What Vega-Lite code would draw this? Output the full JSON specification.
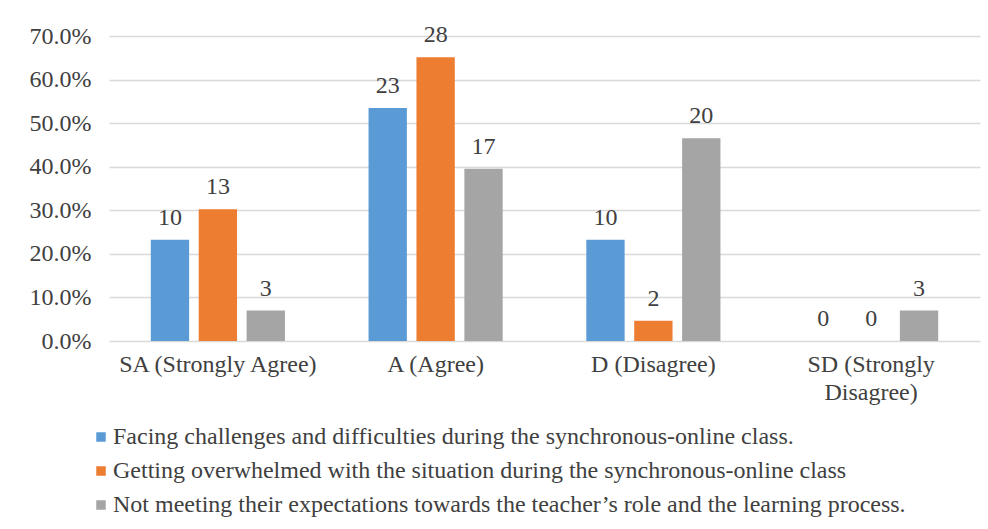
{
  "$schema": "https://vega.github.io/schema/vega-lite/v6.json",
  "width": 871,
  "height": 305,
  "autosize": {"type": "none"},
  "padding": {"left": 109, "top": 36, "right": 8, "bottom": 188},
  "background": "white",
  "config": {
    "view": {"stroke": null},
    "font": "Liberation Serif",
    "legend": {"padding": 0, "offset": 0}
  },
  "data": {
    "values": [
      {"category": "SA (Strongly Agree)", "series": "Facing challenges and difficulties during the synchronous-online class.", "count": 10, "pct": 0.2326},
      {"category": "SA (Strongly Agree)", "series": "Getting overwhelmed with the situation during the synchronous-online class", "count": 13, "pct": 0.3023},
      {"category": "SA (Strongly Agree)", "series": "Not meeting their expectations towards the teacher’s role and the learning process.", "count": 3, "pct": 0.0698},
      {"category": "A (Agree)", "series": "Facing challenges and difficulties during the synchronous-online class.", "count": 23, "pct": 0.5349},
      {"category": "A (Agree)", "series": "Getting overwhelmed with the situation during the synchronous-online class", "count": 28, "pct": 0.6512},
      {"category": "A (Agree)", "series": "Not meeting their expectations towards the teacher’s role and the learning process.", "count": 17, "pct": 0.3953},
      {"category": "D (Disagree)", "series": "Facing challenges and difficulties during the synchronous-online class.", "count": 10, "pct": 0.2326},
      {"category": "D (Disagree)", "series": "Getting overwhelmed with the situation during the synchronous-online class", "count": 2, "pct": 0.0465},
      {"category": "D (Disagree)", "series": "Not meeting their expectations towards the teacher’s role and the learning process.", "count": 20, "pct": 0.4651},
      {"category": "SD (Strongly Disagree)", "series": "Facing challenges and difficulties during the synchronous-online class.", "count": 0, "pct": 0},
      {"category": "SD (Strongly Disagree)", "series": "Getting overwhelmed with the situation during the synchronous-online class", "count": 0, "pct": 0},
      {"category": "SD (Strongly Disagree)", "series": "Not meeting their expectations towards the teacher’s role and the learning process.", "count": 3, "pct": 0.0698}
    ]
  },
  "encoding": {
    "x": {
      "field": "category",
      "type": "nominal",
      "sort": ["SA (Strongly Agree)", "A (Agree)", "D (Disagree)", "SD (Strongly Disagree)"],
      "scale": {"paddingInner": 0.34, "paddingOuter": 0.17},
      "axis": {
        "title": null,
        "labelAngle": 0,
        "ticks": false,
        "domain": false,
        "grid": false,
        "labelFontSize": 24,
        "labelColor": "#404040",
        "labelPadding": 11,
        "labelLimit": 0,
        "labelLineHeight": 28,
        "labelExpr": "datum.value == 'SD (Strongly Disagree)' ? ['SD (Strongly', 'Disagree)'] : datum.value"
      }
    },
    "xOffset": {
      "field": "series",
      "type": "nominal",
      "sort": [
        "Facing challenges and difficulties during the synchronous-online class.",
        "Getting overwhelmed with the situation during the synchronous-online class",
        "Not meeting their expectations towards the teacher’s role and the learning process."
      ],
      "scale": {"paddingInner": 0.2, "paddingOuter": 0.1}
    },
    "y": {
      "field": "pct",
      "type": "quantitative",
      "scale": {"domain": [0, 0.7], "nice": false},
      "axis": {
        "title": null,
        "format": ".1%",
        "values": [0, 0.1, 0.2, 0.3, 0.4, 0.5, 0.6, 0.7],
        "domain": false,
        "ticks": false,
        "labelFontSize": 24,
        "labelColor": "#404040",
        "labelPadding": 18,
        "gridColor": "#d9d9d9",
        "gridWidth": 1.3
      }
    }
  },
  "layer": [
    {
      "mark": {"type": "bar"},
      "encoding": {
        "color": {
          "field": "series",
          "type": "nominal",
          "sort": [
            "Facing challenges and difficulties during the synchronous-online class.",
            "Getting overwhelmed with the situation during the synchronous-online class",
            "Not meeting their expectations towards the teacher’s role and the learning process."
          ],
          "scale": {"range": ["#5B9BD5", "#ED7D31", "#A5A5A5"]},
          "legend": {
            "title": null,
            "orient": "none",
            "direction": "vertical",
            "legendX": -20,
            "legendY": 389,
            "symbolType": "square",
            "symbolSize": 90,
            "symbolStrokeWidth": 0,
            "labelFontSize": 24,
            "labelColor": "#404040",
            "labelLimit": 0,
            "labelOffset": 0,
            "rowPadding": 10
          }
        }
      }
    },
    {
      "mark": {"type": "text", "baseline": "bottom", "dy": -10, "fontSize": 24, "color": "#404040"},
      "encoding": {
        "text": {"field": "count", "type": "quantitative"}
      }
    }
  ]
}
